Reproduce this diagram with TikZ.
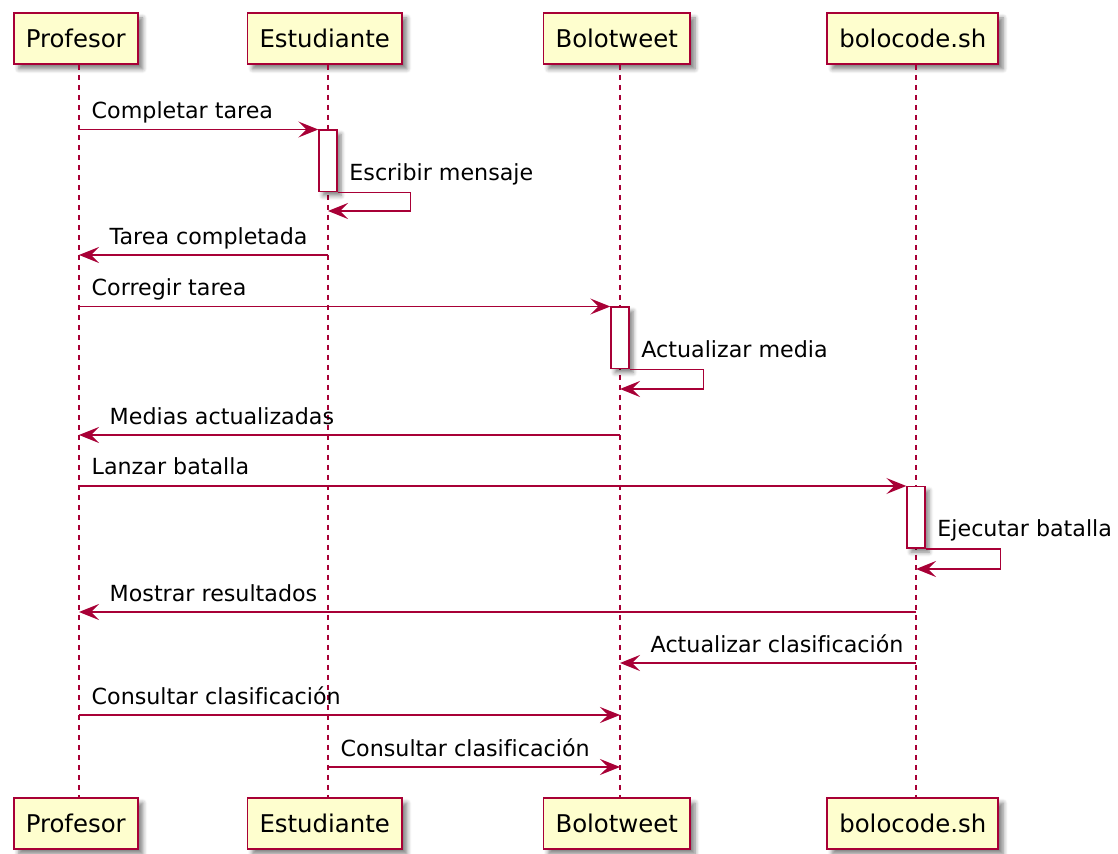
\documentclass[tikz,border=0pt]{standalone}
\usepackage{fontspec}
\setmainfont[Ligatures=NoCommon]{DejaVu Sans}
\usetikzlibrary{arrows.meta, positioning, shadows.blur}

\definecolor{umlred}{HTML}{A80036}
\definecolor{umlyellow}{HTML}{FEFECE}

\begin{document}
\begin{tikzpicture}[
        x=0.5pt, y=-0.5pt,
        actor/.style={rectangle, draw=umlred, line width=0.9pt, fill=umlyellow, inner xsep=6pt, minimum height=25.5pt, font=\fontsize{12.2}{14}\selectfont, blur shadow={shadow xshift=2.5pt, shadow yshift=-2.5pt, shadow blur steps=6, shadow opacity=50}},
        lifeline/.style={draw=umlred, line width=0.55pt, dash pattern=on 2.5pt off 2.5pt},
        activ/.style={rectangle, draw=umlred, line width=0.7pt, fill=white, minimum width=9pt, minimum height=30.75pt, inner sep=0pt, anchor=north, blur shadow={shadow xshift=2pt, shadow yshift=-2pt, shadow blur steps=5, shadow opacity=50}},
        msg/.style={draw=umlred, line width=0.7pt, -{Stealth[length=10pt, width=8pt, inset=4pt]}},
        msgR/.style={font=\fontsize{11.1}{13}\selectfont, inner sep=0pt, pos=0, anchor=base west, xshift=6pt, yshift=5.5pt},
        msgL/.style={font=\fontsize{11.1}{13}\selectfont, inner sep=0pt, pos=1, anchor=base west, xshift=15pt, yshift=5pt},
        selfmsg/.style={font=\fontsize{11.1}{13}\selectfont, inner sep=0pt, pos=0, anchor=base west, xshift=5.5pt, yshift=6pt}
    ]
    \useasboundingbox (0,0) rectangle (1118,854);

    % lifelines x
    \coordinate (xProf) at (79,0);
    \coordinate (xEst) at (328,0);
    \coordinate (xBolo) at (620,0);
    \coordinate (xCode) at (916,0);

    % message rows
    \coordinate (r1) at (0,129.5);
    \coordinate (r2) at (0,211);
    \coordinate (r3) at (0,255);
    \coordinate (r4) at (0,306.5);
    \coordinate (r5) at (0,389);
    \coordinate (r6) at (0,435);
    \coordinate (r7) at (0,486);
    \coordinate (r8) at (0,569);
    \coordinate (r9) at (0,612);
    \coordinate (r10) at (0,663);
    \coordinate (r11) at (0,715);
    \coordinate (r12) at (0,767);

    % participants
    \node (profTop) [actor] at (75.75,38.5) {Profesor};
    \node (estTop) [actor] at (324.75,38.5) {Estudiante};
    \node (boloTop) [actor] at (616.75,38.5) {Bolotweet};
    \node (codeTop) [actor] at (912.75,38.5) {bolocode.sh};
    \node (profBot) [actor] at (75.75,823.5) {Profesor};
    \node (estBot) [actor] at (324.75,823.5) {Estudiante};
    \node (boloBot) [actor] at (616.75,823.5) {Bolotweet};
    \node (codeBot) [actor] at (912.75,823.5) {bolocode.sh};

    \draw [lifeline] (xProf |- profTop.south) -- (xProf |- profBot.north);
    \draw [lifeline] (xEst |- estTop.south) -- (xEst |- estBot.north);
    \draw [lifeline] (xBolo |- boloTop.south) -- (xBolo |- boloBot.north);
    \draw [lifeline] (xCode |- codeTop.south) -- (xCode |- codeBot.north);

    % activations
    \node (actEst) [activ] at (xEst |- r1) {};
    \node (actBolo) [activ] at (xBolo |- r4) {};
    \node (actCode) [activ] at (xCode |- r7) {};

    % messages
    \draw [msg] (xProf |- r1) -- node[msgR] {Completar tarea} (actEst.north west);
    \draw [msg] (actEst.south east) -- node[selfmsg] {Escribir mensaje} ++(36.5pt,0) |- (xEst |- r2);
    \draw [msg] (xEst |- r3) -- node[msgL] {Tarea completada} (xProf |- r3);
    \draw [msg] (xProf |- r4) -- node[msgR] {Corregir tarea} (actBolo.north west);
    \draw [msg] (actBolo.south east) -- node[selfmsg] {Actualizar media} ++(37pt,0) |- (xBolo |- r5);
    \draw [msg] (xBolo |- r6) -- node[msgL] {Medias actualizadas} (xProf |- r6);
    \draw [msg] (xProf |- r7) -- node[msgR] {Lanzar batalla} (actCode.north west);
    \draw [msg] (actCode.south east) -- node[selfmsg] {Ejecutar batalla} ++(37.5pt,0) |- (xCode |- r8);
    \draw [msg] (xCode |- r9) -- node[msgL] {Mostrar resultados} (xProf |- r9);
    \draw [msg] (xCode |- r10) -- node[msgL] {Actualizar clasificación} (xBolo |- r10);
    \draw [msg] (xProf |- r11) -- node[msgR] {Consultar clasificación} (xBolo |- r11);
    \draw [msg] (xEst |- r12) -- node[msgR] {Consultar clasificación} (xBolo |- r12);

\end{tikzpicture}
\end{document}
